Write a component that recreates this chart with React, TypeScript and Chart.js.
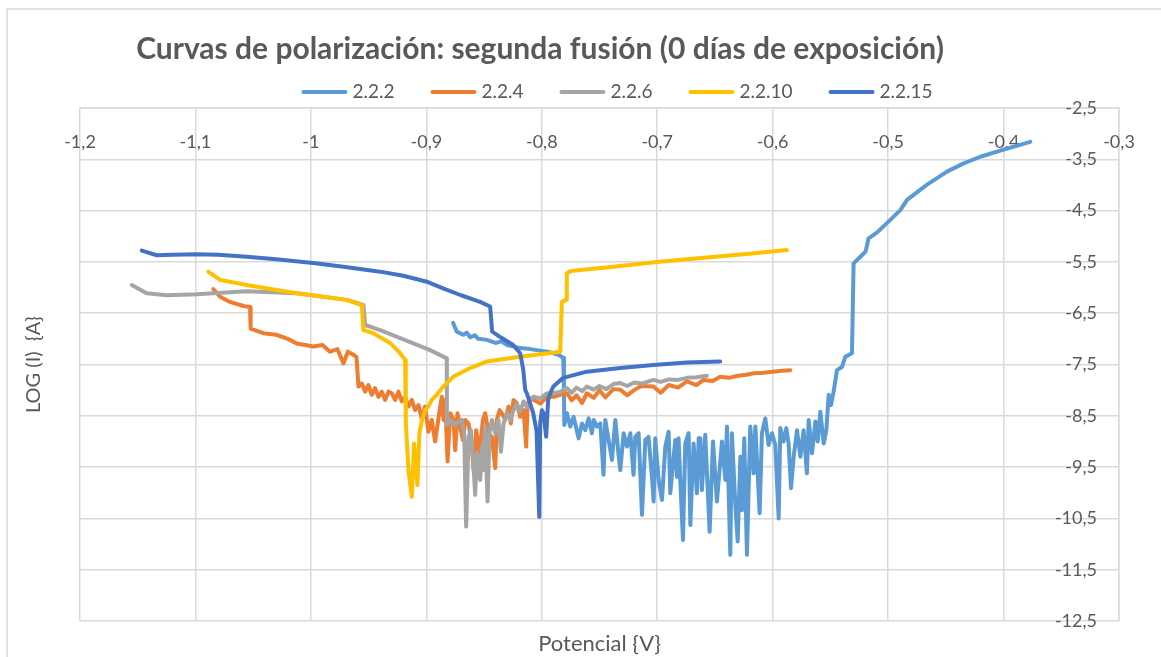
import { useEffect, useRef } from "react";
import { Chart, registerables } from "chart.js";

Chart.register(...registerables);

const TITLE = "Curvas de polarización: segunda fusión (0 días de exposición)";
const X_TITLE = "Potencial {V}";
const Y_TITLE = "LOG (I)  {A}";
const SERIES_NAMES = ["2.2.2", "2.2.4", "2.2.6", "2.2.10", "2.2.15"];
const COLORS = ["#5B9BD5", "#ED7D31", "#A5A5A5", "#FFC000", "#4472C4"];
const X_TICKS = [-1.2, -1.1, -1.0, -0.9, -0.8, -0.7, -0.6, -0.5, -0.4, -0.3];
const Y_TICKS = [-12.5, -11.5, -10.5, -9.5, -8.5, -7.5, -6.5, -5.5, -4.5, -3.5, -2.5];

const X_222 = [
  -0.8768, -0.8736, -0.868, -0.865, -0.862, -0.858, -0.855, -0.8476, -0.84, -0.835, -0.83, -0.8187, -0.81, -0.8043, -0.795, -0.7855, -0.7814, -0.7808,
  -0.7805, -0.7782, -0.7753, -0.7724, -0.7681, -0.7652, -0.7623, -0.7594, -0.7566, -0.7551, -0.7522, -0.7493, -0.7465, -0.745, -0.7421, -0.7392,
  -0.7363, -0.7335, -0.732, -0.7291, -0.7262, -0.7233, -0.7205, -0.719, -0.7161, -0.7132, -0.7103, -0.7075, -0.7046, -0.7031, -0.7017, -0.6988,
  -0.6959, -0.693, -0.6901, -0.6887, -0.6858, -0.6843, -0.6829, -0.6815, -0.68, -0.6777, -0.6757, -0.6728, -0.6713, -0.6685, -0.6656, -0.6641,
  -0.6627, -0.6613, -0.6584, -0.6546, -0.6517, -0.6483, -0.6439, -0.641, -0.6396, -0.6367, -0.6353, -0.6324, -0.6303, -0.628, -0.6266, -0.6246,
  -0.6223, -0.6194, -0.6165, -0.615, -0.6113, -0.6093, -0.6064, -0.6035, -0.6006, -0.5977, -0.5948, -0.5934, -0.5905, -0.5882, -0.5862, -0.5841,
  -0.5818, -0.5789, -0.576, -0.5732, -0.5703, -0.5688, -0.5659, -0.563, -0.561, -0.5587, -0.5558, -0.5535, -0.5515, -0.5495, -0.5472,
  -0.5443, -0.54, -0.5371, -0.5313, -0.5299, -0.5227, -0.5195, -0.5169, -0.5097, -0.4981, -0.4894, -0.4836, -0.4666, -0.449, -0.4346, -0.4201,
  -0.4, -0.3768,
];
const Y_222 = [
  -6.69, -6.86, -6.92, -6.88, -6.97, -6.93, -7.0, -7.02, -7.08, -7.05, -7.12, -7.18, -7.2, -7.22, -7.25, -7.31, -7.37, -8.0,
  -8.68, -8.45, -8.71, -8.52, -8.94, -8.65, -8.78, -8.55, -8.84, -8.58, -8.71, -8.65, -9.65, -8.58, -8.97, -9.36,
  -8.58, -9.26, -9.56, -8.84, -9.1, -8.84, -9.65, -8.91, -8.84, -10.43, -8.97, -8.91, -9.69, -10.17, -8.94, -9.75,
  -10.14, -9.1, -8.81, -10.01, -9.3, -8.97, -9.69, -8.94, -9.75, -10.92, -9.04, -8.84, -10.63, -9.04, -10.01, -8.94,
  -8.94, -9.95, -8.87, -10.76, -9.0, -10.17, -9.0, -9.75, -8.71, -11.21, -8.84, -10.21, -10.95, -9.3, -10.34, -8.94,
  -11.21, -8.71, -9.62, -8.71, -10.4, -8.84, -8.55, -9.07, -8.84, -9.07, -10.5, -8.74, -9.0, -8.74, -9.04, -9.91,
  -9.3, -8.78, -9.3, -8.78, -9.62, -8.58, -9.23, -8.61, -9.0, -8.42, -9.04, -8.78, -8.09, -8.29, -8.03,
  -7.61, -7.55, -7.35, -7.28, -5.53, -5.37, -5.3, -5.04, -4.93, -4.68, -4.49, -4.29, -4.0, -3.74, -3.58, -3.45,
  -3.31, -3.16,
];

const X_224 = [
  -1.0845, -1.0787, -1.07, -1.0585, -1.0527, -1.0522, -1.0412, -1.03, -1.02, -1.0122, -0.9978, -0.99, -0.9834, -0.977, -0.9718, -0.968, -0.9632, -0.9605,
  -0.9588, -0.9559, -0.953, -0.9502, -0.9473, -0.9444, -0.9415, -0.9386, -0.9357, -0.9328, -0.9299, -0.927, -0.9242, -0.9213, -0.9184, -0.9155,
  -0.9126, -0.9097, -0.9068, -0.904, -0.9011, -0.8982, -0.8953, -0.8924, -0.8895,
  -0.888, -0.8866, -0.8851, -0.8837, -0.8816, -0.8793, -0.8764, -0.875, -0.873, -0.8707, -0.8684, -0.8663, -0.8634, -0.8606, -0.8591, -0.8568,
  -0.8539, -0.851, -0.849, -0.8461, -0.8432, -0.8403, -0.8389, -0.8366, -0.8346, -0.8317, -0.8288, -0.8268, -0.8245, -0.8216, -0.8187, -0.8158,
  -0.8135, -0.8123, -0.81, -0.8042, -0.8013, -0.7956, -0.7898, -0.784, -0.7782, -0.774, -0.77, -0.765, -0.761, -0.755, -0.75, -0.745, -0.738,
  -0.732, -0.726, -0.72, -0.714, -0.7034, -0.697, -0.69, -0.682, -0.6743, -0.666, -0.66, -0.652, -0.6454, -0.638, -0.63, -0.623, -0.6165,
  -0.608, -0.6, -0.592, -0.5847,
];
const Y_224 = [
  -6.03, -6.18, -6.28, -6.36, -6.38, -6.8, -6.89, -6.92, -7.0, -7.09, -7.15, -7.12, -7.25, -7.2, -7.48, -7.25, -7.31, -7.35,
  -7.93, -7.87, -8.03, -7.9, -8.09, -7.96, -8.13, -8.03, -8.19, -8.03, -8.06, -8.19, -8.03, -8.22, -8.13, -8.32,
  -8.19, -8.39, -8.29, -8.55, -8.32, -8.81, -8.58, -9.0, -8.55,
  -8.32, -8.13, -8.58, -8.19, -9.39, -8.45, -8.58, -9.17, -8.45, -8.71, -8.97, -8.58, -8.65, -9.1, -9.56, -8.78,
  -9.23, -8.58, -8.45, -8.84, -8.91, -9.52, -8.58, -8.39, -8.45, -8.58, -8.32, -8.65, -8.19, -8.26, -8.52, -8.39,
  -9.1, -8.26, -8.16, -8.22, -8.26, -8.13, -8.13, -8.09, -8.06, -8.2, -8.1, -8.25, -8.06, -8.15, -8.0, -8.14, -7.98,
  -7.99, -8.1, -8.0, -7.92, -7.93, -8.05, -7.9, -7.95, -7.83, -7.9, -7.8, -7.82, -7.74, -7.76, -7.72, -7.7, -7.67,
  -7.66, -7.64, -7.62, -7.61,
];

const X_226 = [
  -1.1552, -1.1423, -1.1249, -1.0989, -1.0556, -1.0122, -0.9689, -0.9545, -0.953, -0.94, -0.9112, -0.8967, -0.8823,
  -0.8822, -0.8793, -0.875, -0.8721, -0.8692, -0.8672, -0.8655, -0.8634, -0.8614, -0.8591, -0.8577, -0.8562, -0.8548, -0.8533, -0.8519, -0.8504,
  -0.849, -0.847, -0.8453, -0.8432, -0.8403, -0.8375, -0.8354, -0.8331, -0.8302, -0.8273, -0.8245, -0.8216, -0.8187, -0.8158, -0.8129, -0.81,
  -0.8071, -0.8013, -0.7956, -0.7898, -0.784, -0.7782, -0.774, -0.77, -0.765, -0.761, -0.755, -0.75, -0.744, -0.738, -0.732, -0.726, -0.72,
  -0.713, -0.7034, -0.697, -0.69, -0.682, -0.6743, -0.666, -0.657,
];
const Y_226 = [
  -5.95, -6.11, -6.15, -6.13, -6.07, -6.11, -6.24, -6.34, -6.73, -6.83, -7.09, -7.22, -7.38,
  -8.68, -8.58, -8.68, -8.61, -8.58, -8.87, -10.66, -8.91, -8.78, -9.49, -10.04, -9.23, -9.62, -9.75, -9.1, -9.56,
  -8.71, -10.17, -8.84, -8.58, -8.84, -8.58, -9.2, -8.65, -8.45, -8.58, -8.39, -8.26, -8.42, -8.22, -8.32, -8.19,
  -8.13, -8.16, -8.06, -8.06, -8.03, -7.96, -8.05, -7.95, -8.02, -7.93, -7.99, -7.92, -7.98, -7.88, -7.86, -7.92, -7.85,
  -7.87, -7.8, -7.84, -7.79, -7.8, -7.76, -7.75, -7.72,
];

const X_2210 = [
  -1.0888, -1.0787, -1.0556, -1.035, -1.0122, -0.99, -0.9689, -0.9559, -0.9545, -0.946, -0.9314, -0.9227, -0.9184, -0.9178, -0.9155, -0.9126,
  -0.9106, -0.9077, -0.906, -0.904, -0.901, -0.8982, -0.8953, -0.891, -0.8852, -0.8794, -0.8768, -0.862, -0.8476, -0.8187, -0.784, -0.7826,
  -0.779, -0.7783, -0.775, -0.7667, -0.74, -0.7003, -0.65, -0.62, -0.5877,
];
const Y_2210 = [
  -5.69, -5.85, -5.95, -6.03, -6.11, -6.18, -6.24, -6.34, -6.83, -6.89, -7.08, -7.28, -7.41, -8.61, -9.56, -10.08,
  -9.04, -9.85, -8.84, -8.61, -8.39, -8.32, -8.19, -8.09, -7.93, -7.8, -7.74, -7.57, -7.44, -7.35, -7.25, -6.28,
  -6.24, -5.72, -5.68, -5.66, -5.6, -5.5, -5.4, -5.34, -5.27,
];

const X_2215 = [
  -1.1465, -1.1335, -1.12, -1.099, -1.08, -1.0556, -1.03, -0.998, -0.97, -0.94, -0.92, -0.8996, -0.885, -0.87, -0.8534, -0.8447, -0.843, -0.835,
  -0.8248, -0.8187, -0.816, -0.8144, -0.813, -0.8074, -0.8045, -0.8022, -0.8014, -0.7999, -0.7985, -0.7962, -0.7945, -0.7927, -0.79, -0.7814,
  -0.761, -0.732, -0.7034, -0.6743, -0.6454,
];
const Y_2215 = [
  -5.28, -5.37, -5.36, -5.35, -5.36, -5.4, -5.45, -5.52, -5.6, -5.69, -5.77, -5.886, -6.02, -6.15, -6.28, -6.37, -6.86, -6.98,
  -7.12, -7.28, -7.61, -7.99, -8.06, -8.45, -8.8, -10.47, -8.64, -8.39, -8.45, -8.91, -8.19, -8.06, -7.93, -7.76,
  -7.64, -7.57, -7.51, -7.46, -7.44,
];

const SERIES_X = [X_222, X_224, X_226, X_2210, X_2215];
const SERIES_Y = [Y_222, Y_224, Y_226, Y_2210, Y_2215];

const TEXT_COLOR = "#595959";
const GRID_COLOR = "#D9D9D9";
const FONT = "Lato, Carlito, Calibri, 'Open Sans', sans-serif";

const fmt = (v: number) => String(Math.round(v * 10) / 10).replace(".", ",");

const decorPlugin = {
  id: "decor",
  beforeDraw(chart: any) {
    const ctx = chart.ctx;
    ctx.save();
    ctx.fillStyle = "#ffffff";
    ctx.fillRect(0, 0, chart.width, chart.height);
    ctx.strokeStyle = GRID_COLOR;
    ctx.lineWidth = 1.5;
    ctx.strokeRect(7, 9, 1400, 1000);
    ctx.restore();
  },
  beforeDatasetsDraw(chart: any) {
    const ctx = chart.ctx;
    const xs = chart.scales.x;
    const ys = chart.scales.y;
    const ca = chart.chartArea;
    ctx.save();
    ctx.fillStyle = TEXT_COLOR;
    ctx.font = `18px ${FONT}`;
    ctx.textBaseline = "middle";
    ctx.textAlign = "center";
    xs.ticks.forEach((t: any) => {
      ctx.fillText(fmt(t.value), xs.getPixelForValue(t.value), ca.top + 34);
    });
    ctx.textAlign = "right";
    ys.ticks.forEach((t: any) => {
      ctx.fillText(fmt(t.value), ca.right - 22, ys.getPixelForValue(t.value));
    });
    ctx.restore();
  },
  afterDraw(chart: any) {
    const ctx = chart.ctx;
    const ca = chart.chartArea;
    ctx.save();
    ctx.fillStyle = TEXT_COLOR;
    ctx.textBaseline = "middle";
    ctx.textAlign = "center";
    ctx.font = `bold 30px ${FONT}`;
    ctx.fillText(TITLE, 540, 49);

    // legend
    ctx.font = `19px ${FONT}`;
    ctx.textAlign = "left";
    const lineLen = 46;
    const gap = 5;
    const spacing = 36;
    const datasets = chart.data.datasets;
    let total = 0;
    datasets.forEach((d: any, i: number) => {
      total += lineLen + gap + ctx.measureText(d.label).width + (i < datasets.length - 1 ? spacing : 0);
    });
    let x = 617 - total / 2;
    const ly = 92;
    datasets.forEach((d: any) => {
      ctx.strokeStyle = d.borderColor;
      ctx.lineWidth = 4;
      ctx.lineCap = "round";
      ctx.beginPath();
      ctx.moveTo(x + 2, ly);
      ctx.lineTo(x + lineLen - 2, ly);
      ctx.stroke();
      x += lineLen + gap;
      ctx.fillText(d.label, x, ly);
      x += ctx.measureText(d.label).width + spacing;
    });

    // axis titles
    ctx.textAlign = "center";
    ctx.font = `22px ${FONT}`;
    ctx.fillText(X_TITLE, (ca.left + ca.right) / 2, 644);
    ctx.font = `20px ${FONT}`;
    ctx.translate(34, (ca.top + ca.bottom) / 2);
    ctx.rotate(-Math.PI / 2);
    ctx.fillText(Y_TITLE, 0, 0);
    ctx.restore();
  },
};

export default function App() {
  const canvasRef = useRef<HTMLCanvasElement | null>(null);

  useEffect(() => {
    if (!canvasRef.current) return;
    const datasets = SERIES_NAMES.map((name, i) => ({
      label: name,
      data: SERIES_X[i].map((x, j) => ({ x, y: SERIES_Y[i][j] })),
      borderColor: COLORS[i],
      backgroundColor: COLORS[i],
      borderWidth: 4,
      pointRadius: 0,
      showLine: true,
      tension: 0,
      borderJoinStyle: "round" as const,
      borderCapStyle: "round" as const,
      order: SERIES_NAMES.length - i,
    }));
    const chart = new Chart(canvasRef.current, {
      type: "scatter",
      data: { datasets },
      options: {
        animation: false,
        responsive: false,
        devicePixelRatio: 1,
        layout: { padding: { left: 80, top: 108, right: 42, bottom: 36 } },
        plugins: {
          legend: { display: false },
          title: { display: false },
          tooltip: { enabled: false },
        },
        scales: {
          x: {
            type: "linear",
            position: "top",
            min: -1.2,
            max: -0.3,
            afterBuildTicks: (scale: any) => {
              scale.ticks = X_TICKS.map((v) => ({ value: v }));
            },
            ticks: { display: false },
            grid: { color: GRID_COLOR, lineWidth: 1.5, drawTicks: false },
            border: { display: true, color: GRID_COLOR, width: 1.5 },
          },
          y: {
            type: "linear",
            position: "right",
            min: -12.5,
            max: -2.5,
            afterBuildTicks: (scale: any) => {
              scale.ticks = Y_TICKS.map((v) => ({ value: v }));
            },
            ticks: { display: false },
            grid: { color: GRID_COLOR, lineWidth: 1.5, drawTicks: false },
            border: { display: true, color: GRID_COLOR, width: 1.5 },
          },
        },
      },
      plugins: [decorPlugin],
    });
    return () => chart.destroy();
  }, []);

  return (
    <div style={{ position: "absolute", left: 0, top: 0, width: 1161, height: 657, background: "#fff" }}>
      <canvas ref={canvasRef} width={1161} height={657} style={{ display: "block" }} />
    </div>
  );
}
